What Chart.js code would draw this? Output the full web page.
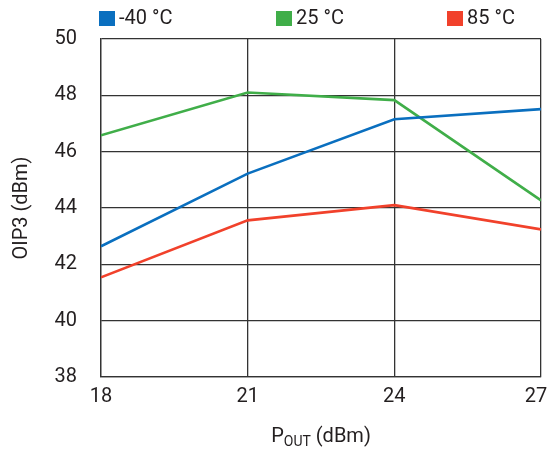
<!DOCTYPE html>
<html>
<head>
<meta charset="utf-8">
<script src="https://cdn.jsdelivr.net/npm/chart.js@4.4.1/dist/chart.umd.min.js"></script>
<style>
  html, body { margin: 0; padding: 0; background: #fff; }
  #wrap { width: 549px; height: 451px; position: relative; }
</style>
</head>
<body>
<div id="wrap"><canvas id="oip3Chart"></canvas></div>
<script>
// OIP3 vs output power at three temperatures
const pout = [18, 21, 24, 27];
const seriesLabels = ['-40 °C', '25 °C', '85 °C'];
const coldValues = [42.64, 45.22, 47.15, 47.51];
const roomValues = [46.58, 48.10, 47.83, 44.27];
const hotValues = [41.54, 43.56, 44.10, 43.24];
const seriesColors = ['#0a6fbf', '#40ae49', '#f1412b'];
const yTicks = [38, 40, 42, 44, 46, 48, 50];

const FONT = 'Roboto, "Liberation Sans", sans-serif';
const TEXT = '#231f20';
const GRID = '#333333';

function toPoints(values) {
    return values.map((v, i) => ({ x: pout[i], y: v }));
}

const datasets = [coldValues, roomValues, hotValues].map((vals, i) => ({
    label: seriesLabels[i],
    data: toPoints(vals),
    borderColor: seriesColors[i],
    backgroundColor: seriesColors[i],
    borderWidth: 2.6,
    pointRadius: 0,
    tension: 0
}));

// Legend across the top and the two axis titles (x title has a subscript)
const labelsPlugin = {
    id: 'labels',
    afterDraw(chart) {
        const ctx = chart.ctx;
        const area = chart.chartArea;
        ctx.save();
        ctx.fillStyle = TEXT;
        ctx.textBaseline = 'middle';

        const legendX = [99, 276, 447];
        chart.data.datasets.forEach((ds, i) => {
            ctx.fillStyle = ds.borderColor;
            ctx.fillRect(legendX[i], 11, 16, 15);
            ctx.fillStyle = TEXT;
            ctx.font = '20px ' + FONT;
            ctx.textAlign = 'left';
            ctx.fillText(ds.label, legendX[i] + 20, 19);
        });

        // x title: P_OUT (dBm)
        ctx.font = '20px ' + FONT;
        const mainW = ctx.measureText('P').width;
        ctx.font = '14px ' + FONT;
        const subW = ctx.measureText('OUT').width;
        ctx.font = '20px ' + FONT;
        const restW = ctx.measureText(' (dBm)').width;
        const total = mainW + subW + restW;
        let x = (area.left + area.right) / 2 - total / 2;
        const y = 437;
        ctx.textAlign = 'left';
        ctx.fillText('P', x, y);
        x += mainW;
        ctx.font = '14px ' + FONT;
        ctx.fillText('OUT', x, y + 5);
        x += subW;
        ctx.font = '20px ' + FONT;
        ctx.fillText(' (dBm)', x, y);

        // y title
        ctx.translate(22, (area.top + area.bottom) / 2);
        ctx.rotate(-Math.PI / 2);
        ctx.textAlign = 'center';
        ctx.fillText('OIP3 (dBm)', 0, 0);
        ctx.restore();
    }
};

new Chart(document.getElementById('oip3Chart'), {
    type: 'line',
    data: { datasets },
    options: {
        responsive: true,
        maintainAspectRatio: false,
        animation: false,
        layout: { padding: { top: 39, right: 8, left: 0, bottom: 0 } },
        plugins: {
            legend: { display: false },
            tooltip: { enabled: false }
        },
        scales: {
            x: {
                type: 'linear',
                min: 18,
                max: 27,
                afterFit: s => { s.height = 74; s.paddingRight = 0; s.paddingLeft = 0; },
                ticks: {
                    stepSize: 3,
                    padding: 8,
                    color: TEXT,
                    font: { family: FONT, size: 20 },
                    // keep the last label inside the canvas
                    callback: v => (v === pout[pout.length - 1] ? v + '\u2002' : String(v))
                },
                grid: { color: GRID, lineWidth: 1.3, drawTicks: false },
                border: { color: GRID, width: 1.3 }
            },
            y: {
                min: 38,
                max: 50,
                afterFit: s => { s.width = 101; s.paddingTop = 0; s.paddingBottom = 0; },
                afterBuildTicks: s => { s.ticks = yTicks.map(v => ({ value: v })); },
                ticks: {
                    padding: 24,
                    color: TEXT,
                    font: { family: FONT, size: 20 }
                },
                grid: { color: GRID, lineWidth: 1.3, drawTicks: false },
                border: { color: GRID, width: 1.3 }
            }
        }
    },
    plugins: [labelsPlugin]
});
</script>
</body>
</html>
